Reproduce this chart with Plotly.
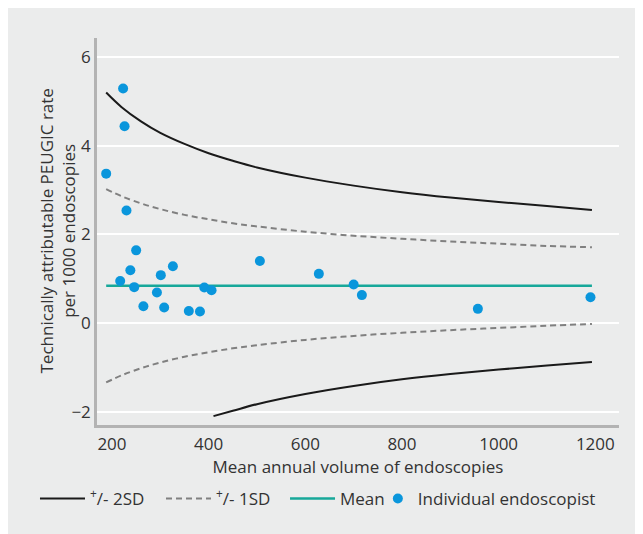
import plotly.graph_objects as go

# Individual endoscopists
vol = [188, 223, 226, 230, 250, 217, 238, 246, 265, 293, 301, 308, 326, 359, 382,
       391, 406, 506, 628, 700, 717, 957, 1190]
rate = [3.37, 5.29, 4.44, 2.54, 1.64, 0.95, 1.19, 0.81, 0.38, 0.69, 1.08, 0.35, 1.28,
        0.27, 0.26, 0.80, 0.74, 1.40, 1.11, 0.87, 0.63, 0.32, 0.58]

# Mean line
mean_x = [188, 1193]
mean_y = [0.84, 0.84]

# Control limits
lim_x = [188, 220, 260, 300, 350, 400, 450, 500, 600, 700, 800, 900, 1000, 1100, 1193]
upper2 = [5.20, 4.87, 4.55, 4.29, 4.04, 3.83, 3.66, 3.51, 3.28, 3.10, 2.95, 2.83, 2.73, 2.64, 2.55]
upper1 = [3.02, 2.86, 2.70, 2.57, 2.44, 2.34, 2.25, 2.18, 2.06, 1.97, 1.90, 1.84, 1.79, 1.74, 1.71]
lower1 = [-1.34, -1.18, -1.02, -0.89, -0.76, -0.66, -0.57, -0.50, -0.38, -0.29, -0.22, -0.16, -0.11, -0.06, -0.02]
lower2_x = [410, 450, 500, 600, 700, 800, 900, 1000, 1100, 1193]
lower2 = [-2.10, -1.98, -1.83, -1.60, -1.42, -1.27, -1.15, -1.05, -0.96, -0.88]

x_ticks = [200, 400, 600, 800, 1000, 1200]
y_ticks = [-2, 0, 2, 4, 6]
y_tick_text = ["\u22122", "0", "2", "4", "6"]

BG = "#ebecec"
FONT = "Open Sans"
TXT = "#333333"
LEG_Y = -0.191

fig = go.Figure()
fig.add_trace(go.Scatter(x=lim_x, y=upper2, mode="lines", line=dict(color="#1a1a1a", width=2, shape="spline"),
                         name="<sup>+</sup>/- 2SD", legendgroup="2sd", legend="legend"))
fig.add_trace(go.Scatter(x=lower2_x, y=lower2, mode="lines", line=dict(color="#1a1a1a", width=2, shape="spline"),
                         name="<sup>+</sup>/- 2SD", legendgroup="2sd", showlegend=False, legend="legend"))
fig.add_trace(go.Scatter(x=lim_x, y=upper1, mode="lines",
                         line=dict(color="#808080", width=2, dash="6px,4px", shape="spline"),
                         name="<sup>+</sup>/- 1SD", legendgroup="1sd", legend="legend2"))
fig.add_trace(go.Scatter(x=lim_x, y=lower1, mode="lines",
                         line=dict(color="#808080", width=2, dash="6px,4px", shape="spline"),
                         name="<sup>+</sup>/- 1SD", legendgroup="1sd", showlegend=False, legend="legend2"))
fig.add_trace(go.Scatter(x=mean_x, y=mean_y, mode="lines", line=dict(color="#17a89a", width=2.5),
                         name="Mean", legend="legend3"))
fig.add_trace(go.Scatter(x=vol, y=rate, mode="markers",
                         marker=dict(color="#0a96dc", size=10, line=dict(width=0)),
                         name="Individual endoscopist", legend="legend4"))

def leg(x, iw):
    return dict(orientation="h", x=x, xanchor="left", y=LEG_Y, yanchor="middle",
                bgcolor="rgba(0,0,0,0)", font=dict(size=17, color=TXT), itemwidth=iw)

fig.update_layout(
    width=635, height=526,
    margin=dict(l=89, r=24, t=30, b=109),
    paper_bgcolor=BG, plot_bgcolor=BG,
    font=dict(family=FONT, size=17, color=TXT),
    showlegend=True,
    legend=leg(-0.1188, 45),
    legend2=leg(0.1226, 45),
    legend3=leg(0.3602, 45),
    legend4=leg(0.538, 30),
    xaxis=dict(range=[169, 1249], tickvals=x_ticks, showgrid=False, zeroline=False,
               showline=True, linecolor="#b3b3b3", linewidth=2.5, ticks="",
               ticklabelstandoff=2,
               title=dict(text="Mean annual volume of endoscopies", standoff=0, font=dict(size=17))),
    yaxis=dict(range=[-2.30, 6.43], tickvals=y_ticks, ticktext=y_tick_text, showgrid=True,
               gridcolor="white", gridwidth=2, zeroline=False,
               showline=True, linecolor="#b3b3b3", linewidth=2.5, ticks="",
               ticklabelstandoff=0),
    annotations=[dict(text="Technically attributable PEUGIC rate<br>per 1000 endoscopies",
                      xref="paper", yref="paper", x=0, y=0.5, xanchor="center", yanchor="middle",
                      xshift=-40, textangle=-90, showarrow=False,
                      font=dict(size=17, color=TXT, family=FONT))],
)

fig.write_html("out.html")
